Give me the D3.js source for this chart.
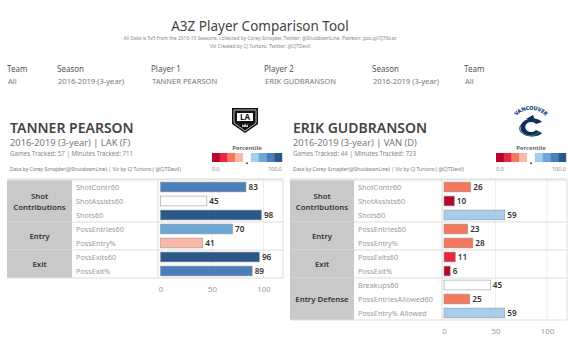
<!DOCTYPE html>
<html><head><meta charset="utf-8">
<script src="https://cdn.jsdelivr.net/npm/d3@7"></script>
<style>body{margin:0;background:#fff}svg{display:block}text{font-family:"Noto Sans",sans-serif}</style>
</head><body><svg id="c" width="575" height="360"></svg>
<script>
// ---- data ----
const filterLabels = ["Team","Season","Player 1","Player 2","Season","Team"];
const filterValues = ["All","2016-2019 (3-year)","TANNER PEARSON","ERIK GUDBRANSON","2016-2019 (3-year)","All"];

const p1Name = "TANNER PEARSON", p1Sub = "2016-2019 (3-year) | LAK (F)", p1Games = 57, p1Minutes = 711;
const p1Groups  = ["Shot Contributions","Shot Contributions","Shot Contributions","Entry","Entry","Exit","Exit"];
const p1Metrics = ["ShotContr60","ShotAssists60","Shots60","PossEntries60","PossEntry%","PossExits60","PossExit%"];
const p1Values  = [83,45,98,70,41,96,89];

const p2Name = "ERIK GUDBRANSON", p2Sub = "2016-2019 (3-year) | VAN (D)", p2Games = 44, p2Minutes = 723;
const p2Groups  = ["Shot Contributions","Shot Contributions","Shot Contributions","Entry","Entry","Exit","Exit","Entry Defense","Entry Defense","Entry Defense"];
const p2Metrics = ["ShotContr60","ShotAssists60","Shots60","PossEntries60","PossEntry%","PossExits60","PossExit%","Breakups60","PossEntriesAllowed60","PossEntry% Allowed"];
const p2Values  = [26,10,59,23,28,11,6,45,25,59];

const axisTicks = [0,50,100];
const legendColors = ["#b5072b","#e8283c","#f4775e","#fbb9a9","#ffffff","#a6cde9","#6ea7d5","#4a7fb9","#2a5888"];
const legendBreaks = [10.5,20,35,44,55,65,80,92];

// ---- drawing ----
const svg = d3.select("#c");
const color = d3.scaleThreshold().domain(legendBreaks).range(legendColors);

svg.append("text").attr("x",260).attr("y",31).attr("text-anchor","middle")
  .attr("font-size",13.5).attr("fill","#444").text("A3Z Player Comparison Tool");
svg.append("text").attr("x",260).attr("y",40).attr("text-anchor","middle").attr("font-size",4.9).attr("fill","#888")
  .text("All Data is 5v5 from the 2016-19 Seasons, collected by Corey Sznajder, Twitter: @ShutdownLine, Patreon: goo.gl/Q76baz");
svg.append("text").attr("x",260).attr("y",48).attr("text-anchor","middle").attr("font-size",4.9).attr("fill","#888")
  .text("Viz Created by CJ Turtoro, Twitter: @CJTDevil");

const filterX = [7,57,151,264,372,464];
filterLabels.forEach((l,i)=>{
  svg.append("text").attr("x",filterX[i]).attr("y",72).attr("font-size",8).attr("fill","#555").text(l);
  svg.append("text").attr("x",filterX[i]+1).attr("y",84).attr("font-size",7.6).attr("fill","#777").text(filterValues[i]);
});

function header(x0, x1, name, sub, games, mins, legX){
  svg.append("text").attr("x",x0+3).attr("y",133).attr("font-size",14).attr("font-weight",600).attr("fill","#444").text(name);
  svg.append("text").attr("x",x0+3).attr("y",146).attr("font-size",9.3).attr("fill","#777").text(sub);
  svg.append("text").attr("x",x0+3).attr("y",155.5).attr("font-size",6.2).attr("fill","#888")
    .text(`Games Tracked: ${games}  | Minutes Tracked: ${mins}`);
  svg.append("text").attr("x",x0+3).attr("y",171).attr("font-size",5.1).attr("fill","#777")
    .text("Data by Corey Sznajder(@ShutdownLine) | Viz by CJ Turtoro ( @CJTDevil)");
  svg.append("line").attr("x1",x0).attr("x2",x1).attr("y1",179).attr("y2",179).attr("stroke","#ddd").attr("stroke-width",1);
  const lw = 70, cw = lw/legendColors.length;
  svg.append("text").attr("x",legX+lw/2).attr("y",150).attr("text-anchor","middle").attr("font-size",6).attr("font-weight",600).attr("fill","#555").text("Percentile");
  svg.selectAll(null).data(legendColors).enter().append("rect")
    .attr("x",(d,i)=>legX+i*cw).attr("y",153).attr("width",cw+0.2).attr("height",9).attr("fill",d=>d);
  svg.append("rect").attr("x",legX+4.5*cw-1).attr("y",162.5).attr("width",2).attr("height",1.6).attr("fill","#555");
  svg.append("text").attr("x",legX).attr("y",170.5).attr("font-size",5.5).attr("fill","#888").text("0.0");
  svg.append("text").attr("x",legX+lw).attr("y",170.5).attr("text-anchor","end").attr("font-size",5.5).attr("fill","#888").text("100.0");
}
header(7,283,p1Name,p1Sub,p1Games,p1Minutes,212);
header(290,567,p2Name,p2Sub,p2Games,p2Minutes,496);

// LA Kings logo (simplified)
(function(){
  const g = svg.append("g").attr("transform","translate(245,121)");
  g.append("path").attr("d","M-13,-13 L13,-13 L13,3 L0,12 L-13,3 Z").attr("fill","#111");
  g.append("path").attr("d","M-11,-11 L11,-11 L11,2 L0,10 L-11,2 Z").attr("fill","none").attr("stroke","#bbb").attr("stroke-width",1);
  g.append("rect").attr("x",-8).attr("y",-8).attr("width",16).attr("height",8).attr("fill","#fff");
  g.append("text").attr("x",0).attr("y",-1.3).attr("text-anchor","middle").attr("font-size",8).attr("font-weight",700).attr("fill","#111").text("LA");
  g.append("path").attr("d","M-3,6 L-3,3 L-1.5,4.5 L0,2.5 L1.5,4.5 L3,3 L3,6 Z").attr("fill","#bbb");
})();
// Canucks logo (simplified)
(function(){
  const g = svg.append("g").attr("transform","translate(531,124)");
  g.append("defs").append("path").attr("id","vanArc").attr("d","M-15,-7 A16,11 0 0 1 15,-7");
  g.append("text").attr("font-size",5.2).attr("font-weight",700).attr("fill","#0a3a7a").attr("stroke","#0a3a7a").attr("stroke-width",0.2)
    .append("textPath").attr("href","#vanArc").attr("startOffset","50%").attr("text-anchor","middle").text("VANCOUVER");
  g.append("path").attr("d","M11,-2 A12,9 0 1 0 11,9 L5,6 A6,5 0 1 1 5,0 Z").attr("fill","#0d2f5f");
  g.append("path").attr("d","M-5,-5 L2,-9 L4,-4 Z").attr("fill","#0d2f5f");
  g.append("path").attr("d","M-10,1 A10,7 0 0 0 8,8").attr("fill","none").attr("stroke","#2b7a4b").attr("stroke-width",1.2);
})();

function panel(x0, xGroup, xMetric, xBar, xEnd, groups, metrics, values){
  const top = 180, rowH = 14, n = metrics.length, bottom = top + n*rowH;
  const y = d3.scaleBand().domain(metrics).range([top,bottom]).paddingInner(0.3).paddingOuter(0.15);
  const x = d3.scaleLinear().domain([0,100]).range([xBar+2.5, xBar+2.5+103]);
  const g = svg.append("g");
  g.selectAll(null).data(axisTicks.slice(1)).enter().append("line")
    .attr("x1",d=>x(d)).attr("x2",d=>x(d)).attr("y1",top).attr("y2",bottom).attr("stroke","#eee");
  const uniq = Array.from(new Set(groups));
  uniq.forEach(gr=>{
    const idx = groups.map((v,i)=>v===gr?i:-1).filter(i=>i>=0);
    const y0 = top + idx[0]*rowH, y1 = top + (idx[idx.length-1]+1)*rowH;
    g.append("rect").attr("x",x0).attr("y",y0).attr("width",xGroup-x0).attr("height",y1-y0).attr("fill","#c9c9c9");
    const words = gr==="Shot Contributions" ? ["Shot","Contributions"] : [gr];
    const cy = (y0+y1)/2;
    words.forEach((w,k)=>{
      g.append("text").attr("x",(x0+xGroup)/2).attr("y",cy + (k-(words.length-1)/2)*11 + 3)
        .attr("text-anchor","middle").attr("font-size",7.8).attr("font-weight",600).attr("fill","#333").text(w);
    });
    g.append("line").attr("x1",x0).attr("x2",xEnd).attr("y1",y1).attr("y2",y1).attr("stroke","#ddd");
  });
  g.append("line").attr("x1",x0).attr("x2",xEnd).attr("y1",top).attr("y2",top).attr("stroke","#ddd");
  g.append("line").attr("x1",xMetric).attr("x2",xMetric).attr("y1",top).attr("y2",bottom).attr("stroke","#ddd");
  g.append("line").attr("x1",xEnd).attr("x2",xEnd).attr("y1",top).attr("y2",bottom).attr("stroke","#ddd");
  g.selectAll(null).data(metrics).enter().append("text")
    .attr("x",xGroup+4).attr("y",d=>y(d)+y.bandwidth()/2+2.6).attr("font-size",7.3).attr("fill","#9a9a9a").text(d=>d);
  g.selectAll(null).data(values).enter().append("rect")
    .attr("x",x(0)).attr("y",(d,i)=>y(metrics[i])).attr("width",d=>x(d)-x(0)).attr("height",y.bandwidth())
    .attr("fill",d=>color(d)).attr("stroke","#999").attr("stroke-width",0.6);
  g.selectAll(null).data(values).enter().append("text")
    .attr("x",d=>x(d)+2.5).attr("y",(d,i)=>y(metrics[i])+y.bandwidth()/2+3).attr("font-size",8.2).attr("font-weight",600).attr("fill","#333").text(d=>d);
  const ax = g.append("g").attr("transform",`translate(0,${bottom})`)
    .call(d3.axisBottom(x).tickValues(axisTicks).tickSize(0).tickPadding(8));
  ax.select(".domain").remove();
  ax.selectAll("text").attr("font-size",7.8).attr("fill","#999").attr("font-family","Noto Sans");
}
panel(7,72,158,158,283,p1Groups,p1Metrics,p1Values);
panel(290,354,442,441.5,567,p2Groups,p2Metrics,p2Values);
</script></body></html>
